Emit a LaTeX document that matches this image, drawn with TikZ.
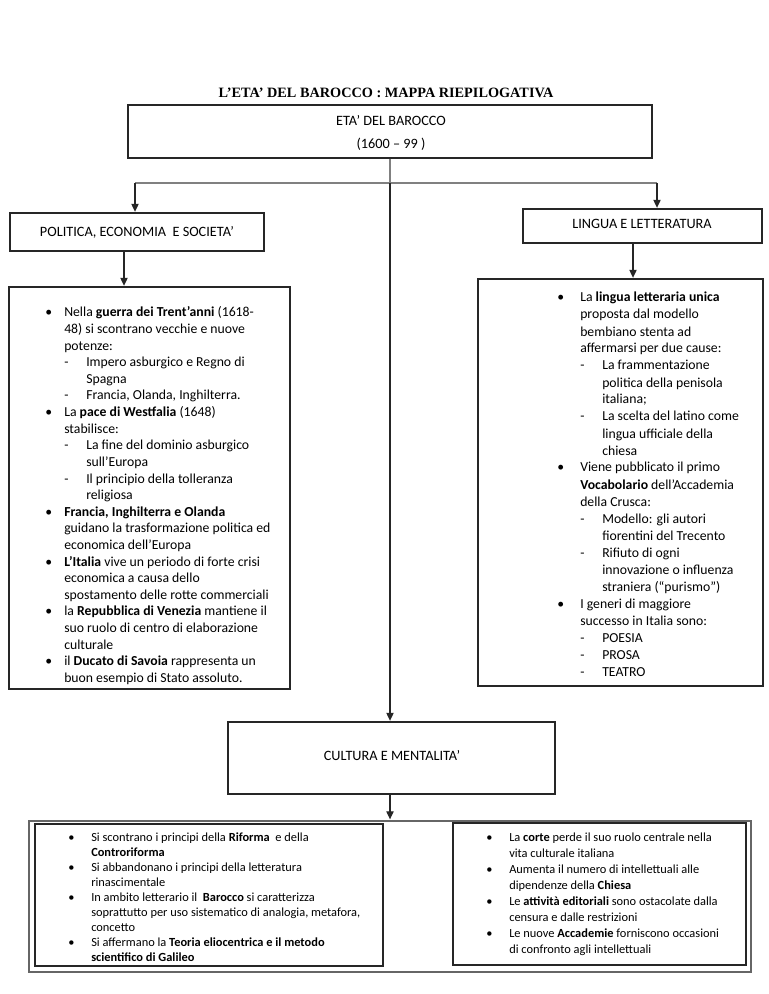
\documentclass[tikz,border=0pt]{standalone}
\usepackage{fontspec}
\setmainfont{Carlito}
\newfontfamily\titlefont{Liberation Serif}
\usetikzlibrary{arrows.meta,fit}
\newlength\bua
\newlength\dsa
\newcommand\mybu{\makebox[\bua][l]{•}}
\newcommand\myct{\hspace*{\bua}}
\newcommand\myds{\hspace*{\bua}\makebox[\dsa][l]{-}}
\newcommand\mydc{\hspace*{\bua}\hspace*{\dsa}}
\begin{document}
\begin{tikzpicture}[x=0.75pt,y=-0.75pt,
  box/.style={draw=black!85, line width=0.8pt, inner sep=0pt},
  outerbox/.style={draw=black!60, line width=1.5pt, inner sep=0pt},
  conn/.style={draw=black!50, line width=1.1pt},
  arr/.style={draw=black!85, line width=0.8pt, -{Triangle[length=6pt,width=5.5pt]}, shorten >=0.5pt},
  head/.style={font=\fontsize{10.7}{12.6}\selectfont, anchor=base, inner sep=0pt},
  body/.style={font=\fontsize{10.3}{12.6}\selectfont, anchor=base west, inner sep=0pt},
  small/.style={anchor=base west, inner sep=0pt},
]
\useasboundingbox (0,0) rectangle (768,994);

% title
\node[anchor=base, inner sep=0pt, font=\titlefont\bfseries\fontsize{10.7}{13}\selectfont] (title) at (386,98) {L’ETA’ DEL BAROCCO : MAPPA RIEPILOGATIVA};

% top box
\node[box, fit={(128,105) (652,158)}] (top) {};
\node[head] (toptxt1) at (391,126) {ETA’ DEL BAROCCO};
\node[head] (toptxt2) at (391,149) {(1600 – 99 )};

% heading boxes
\node[box, fit={(10,213) (264,251)}] (polh) {};
\node[head] (polhtxt) at (137,237) {POLITICA, ECONOMIA\ \ E SOCIETA’};
\node[box, fit={(523,209) (762,243)}] (linh) {};
\node[head] (linhtxt) at (642,229) {LINGUA E LETTERATURA};

% content boxes
\node[box, fit={(9,287) (290,689)}] (polc) {};
\node[box, fit={(478,279) (763,686)}] (linc) {};

% culture
\node[box, fit={(228,722) (555,794)}] (cult) {};
\node[head] (culttxt) at (392,760) {CULTURA E MENTALITA’};

% bottom boxes
\node[outerbox, fit={(29,821) (751,972)}] (botout) {};
\node[box, fit={(35,824) (383,966)}] (botl) {};
\node[box, fit={(453,823) (746,965)}] (botr) {};

% connectors
\coordinate (jc) at (390,183);
\coordinate (jl) at (135,183);
\coordinate (jr) at (657,183);
\coordinate (xl) at (124,260);
\coordinate (xr) at (633,260);
\draw[conn] (top.south) -- (jc);
\draw[conn] (jl) -- (jr);
\draw[arr] (jl) -- (polh.north -| jl);
\draw[arr] (jr) -- (linh.north -| jr);
\draw[arr] (jc) -- (cult.north -| jc);
\draw[arr] (polh.south -| xl) -- (polc.north -| xl);
\draw[arr] (linh.south -| xr) -- (linc.north -| xr);
\draw[arr] (cult.south -| jc) -- (botout.north -| jc);

% left content text
\setlength\bua{19\dimexpr 0.75pt\relax}
\setlength\dsa{22\dimexpr 0.75pt\relax}
\node[body, font=\fontsize{10.3}{12.45}\selectfont] (poltxt) at (45,317) {\begin{tabular}[t]{@{}l@{}}
\mybu Nella \textbf{guerra dei Trent’anni} (1618-\\
\myct 48) si scontrano vecchie e nuove\\
\myct potenze:\\
\myds Impero asburgico e Regno di\\
\mydc Spagna\\
\myds Francia, Olanda, Inghilterra.\\
\mybu La \textbf{pace di Westfalia} (1648)\\
\myct stabilisce:\\
\myds La fine del dominio asburgico\\
\mydc sull’Europa\\
\myds Il principio della tolleranza\\
\mydc religiosa\\
\mybu \textbf{Francia, Inghilterra e Olanda}\\
\myct guidano la trasformazione politica ed\\
\myct economica dell’Europa\\
\mybu \textbf{L’Italia} vive un periodo di forte crisi\\
\myct economica a causa dello\\
\myct spostamento delle rotte commerciali\\
\mybu la \textbf{Repubblica di Venezia} mantiene il\\
\myct suo ruolo di centro di elaborazione\\
\myct culturale\\
\mybu il \textbf{Ducato di Savoia} rappresenta un\\
\myct buon esempio di Stato assoluto.
\end{tabular}};

% right content text
\setlength\bua{23\dimexpr 0.75pt\relax}
\setlength\dsa{22\dimexpr 0.75pt\relax}
\node[body, font=\fontsize{10.3}{12.75}\selectfont] (lintxt) at (557,302) {\begin{tabular}[t]{@{}l@{}}
\mybu La \textbf{lingua letteraria unica}\\
\myct proposta dal modello\\
\myct bembiano stenta ad\\
\myct affermarsi per due cause:\\
\myds La frammentazione\\
\mydc politica della penisola\\
\mydc italiana;\\
\myds La scelta del latino come\\
\mydc lingua ufficiale della\\
\mydc chiesa\\
\mybu Viene pubblicato il primo\\
\myct \textbf{Vocabolario} dell’Accademia\\
\myct della Crusca:\\
\myds Modello: gli autori\\
\mydc fiorentini del Trecento\\
\myds Rifiuto di ogni\\
\mydc innovazione o influenza\\
\mydc straniera (“purismo”)\\
\mybu I generi di maggiore\\
\myct successo in Italia sono:\\
\myds POESIA\\
\myds PROSA\\
\myds TEATRO
\end{tabular}};

% bottom left text
\node[small, font=\fontsize{9.3}{11.25}\selectfont] (bltxt) at (68,841) {\setlength\bua{23\dimexpr 0.75pt\relax}\begin{tabular}[t]{@{}l@{}}
\mybu Si scontrano i principi della \textbf{Riforma}\ \ e della\\
\myct \textbf{Controriforma}\\
\mybu Si abbandonano i principi della letteratura\\
\myct rinascimentale\\
\mybu In ambito letterario il\ \ \textbf{Barocco} si caratterizza\\
\myct soprattutto per uso sistematico di analogia, metafora,\\
\myct concetto\\
\mybu Si affermano la \textbf{Teoria eliocentrica e il metodo}\\
\myct \textbf{scientifico di Galileo}
\end{tabular}};

% bottom right text
\node[small, font=\fontsize{9.3}{12}\selectfont] (brtxt) at (486,841) {\setlength\bua{23\dimexpr 0.75pt\relax}\begin{tabular}[t]{@{}l@{}}
\mybu La \textbf{corte} perde il suo ruolo centrale nella\\
\myct vita culturale italiana\\
\mybu Aumenta il numero di intellettuali alle\\
\myct dipendenze della \textbf{Chiesa}\\
\mybu Le \textbf{attività editoriali} sono ostacolate dalla\\
\myct censura e dalle restrizioni\\
\mybu Le nuove \textbf{Accademie} forniscono occasioni\\
\myct di confronto agli intellettuali
\end{tabular}};
\end{tikzpicture}
\end{document}
